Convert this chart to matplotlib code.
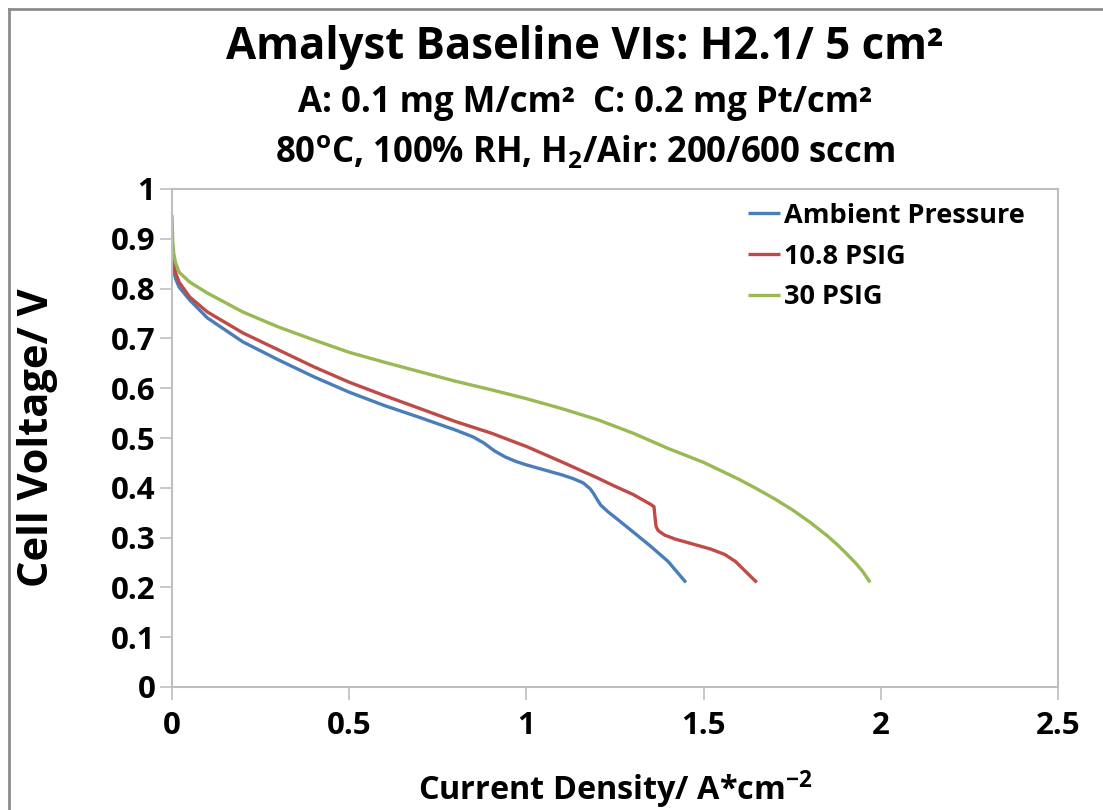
import matplotlib
matplotlib.use("Agg")
import matplotlib.pyplot as plt
from matplotlib.lines import Line2D

FONT = 'Open Sans'
plt.rcParams['font.family'] = [FONT, 'DejaVu Sans']
plt.rcParams['font.weight'] = 'bold'
plt.rcParams['mathtext.fontset'] = 'custom'
plt.rcParams['mathtext.rm'] = FONT + ':bold'
plt.rcParams['mathtext.it'] = FONT + ':bold'
plt.rcParams['mathtext.bf'] = FONT + ':bold'

# ---- data ----
amb_x = [0.0, 0.002, 0.005, 0.01, 0.02, 0.05, 0.1, 0.2, 0.3, 0.4, 0.5, 0.6, 0.7, 0.8,
         0.85, 0.88, 0.91, 0.94, 0.97, 1.0, 1.05, 1.1, 1.13, 1.16, 1.18, 1.19, 1.2,
         1.21, 1.23, 1.26, 1.3, 1.35, 1.4, 1.45]
amb_y = [0.88, 0.855, 0.835, 0.82, 0.803, 0.777, 0.741, 0.693, 0.657, 0.623, 0.592, 0.565,
         0.541, 0.516, 0.502, 0.49, 0.474, 0.462, 0.453, 0.446, 0.436, 0.426, 0.419, 0.41,
         0.398, 0.388, 0.376, 0.365, 0.352, 0.335, 0.312, 0.283, 0.252, 0.21]

psig10_x = [0.0, 0.002, 0.005, 0.01, 0.02, 0.05, 0.1, 0.2, 0.3, 0.4, 0.5, 0.6, 0.7, 0.8,
            0.9, 1.0, 1.1, 1.2, 1.25, 1.3, 1.33, 1.35, 1.36, 1.363, 1.366, 1.372, 1.39,
            1.42, 1.47, 1.52, 1.56, 1.59, 1.61, 1.63, 1.65]
psig10_y = [0.898, 0.87, 0.848, 0.832, 0.813, 0.783, 0.753, 0.711, 0.677, 0.643, 0.612,
            0.585, 0.559, 0.533, 0.51, 0.483, 0.452, 0.42, 0.403, 0.387, 0.375, 0.367,
            0.362, 0.34, 0.322, 0.314, 0.305, 0.297, 0.287, 0.277, 0.266, 0.252, 0.238,
            0.224, 0.21]

psig30_x = [0.0, 0.002, 0.005, 0.01, 0.02, 0.05, 0.1, 0.2, 0.3, 0.4, 0.5, 0.6, 0.7, 0.8,
            0.9, 1.0, 1.1, 1.2, 1.3, 1.4, 1.5, 1.6, 1.65, 1.7, 1.75, 1.8, 1.85, 1.88,
            1.9, 1.93, 1.95, 1.97]
psig30_y = [0.948, 0.895, 0.87, 0.852, 0.833, 0.813, 0.791, 0.753, 0.723, 0.697, 0.672,
            0.652, 0.633, 0.614, 0.597, 0.579, 0.559, 0.537, 0.51, 0.479, 0.451, 0.417,
            0.398, 0.378, 0.356, 0.331, 0.303, 0.284, 0.27, 0.248, 0.231, 0.21]

series_labels = ['Ambient Pressure', '10.8 PSIG', '30 PSIG']
series_colors = ['#4A7EBB', '#BE4B48', '#98B954']

x_ticks = [0, 0.5, 1, 1.5, 2, 2.5]
x_ticklabels = ['0', '0.5', '1', '1.5', '2', '2.5']
y_ticks = [0, 0.1, 0.2, 0.3, 0.4, 0.5, 0.6, 0.7, 0.8, 0.9, 1]
y_ticklabels = ['0', '0.1', '0.2', '0.3', '0.4', '0.5', '0.6', '0.7', '0.8', '0.9', '1']

# ---- figure ----
fig = plt.figure(figsize=(11.03, 8.10), dpi=100)
ax = fig.add_axes([172/1103, 123/810, (1058-172)/1103, (687-189)/810])

for xs, ys, lab, col in zip([amb_x, psig10_x, psig30_x], [amb_y, psig10_y, psig30_y],
                            series_labels, series_colors):
    ax.plot(xs, ys, color=col, lw=2.4, label=lab, solid_capstyle='butt',
            solid_joinstyle='round')

ax.set_xlim(0, 2.5)
ax.set_ylim(0, 1)
ax.set_xticks(x_ticks)
ax.set_xticklabels(x_ticklabels)
ax.set_yticks(y_ticks)
ax.set_yticklabels(y_ticklabels)
for s in ax.spines.values():
    s.set_color('#BFBFBF')
    s.set_linewidth(1.5)
ax.tick_params(axis='both', direction='out', length=9, width=1.2, color='#BFBFBF',
               labelsize=22.5)
ax.tick_params(axis='x', pad=8)
ax.tick_params(axis='y', pad=3)
for t in ax.get_xticklabels() + ax.get_yticklabels():
    t.set_fontweight('bold')

ax.set_xlabel('Current Density/ A*cm$^{-2}$', fontsize=23.3, fontweight='bold', labelpad=20)
ax.set_ylabel('Cell Voltage/ V', fontsize=30, fontweight='bold', labelpad=38)

leg = ax.legend(loc='upper right', bbox_to_anchor=(0.984, 1.01), frameon=False,
                fontsize=19.5, handlelength=1.2, handletextpad=0.15, labelspacing=0.54,
                borderaxespad=0.3)
for t in leg.get_texts():
    t.set_fontweight('bold')

cx = 585/1103
fig.text(cx, 1 - 47/810, 'Amalyst Baseline VIs: H2.1/ 5 cm²', ha='center', va='center',
         fontsize=31.5, fontweight='bold')
fig.text(cx, 1 - 103/810, 'A: 0.1 mg M/cm²  C: 0.2 mg Pt/cm²', ha='center', va='center',
         fontsize=25, fontweight='bold')
fig.text(cx, 1 - 152/810, '80$^{\\mathrm{o}}$C, 100% RH, H$_{2}$/Air: 200/600 sccm',
         ha='center', va='center', fontsize=25, fontweight='bold')

# outer chart border
fig.add_artist(Line2D([9/1103, 9/1103], [0, 1 - 9/810], transform=fig.transFigure,
                      color='#8C8C8C', lw=2))
fig.add_artist(Line2D([9/1103, 1], [1 - 9/810, 1 - 9/810], transform=fig.transFigure,
                      color='#8C8C8C', lw=2))

fig.savefig('out.png', dpi=100)
